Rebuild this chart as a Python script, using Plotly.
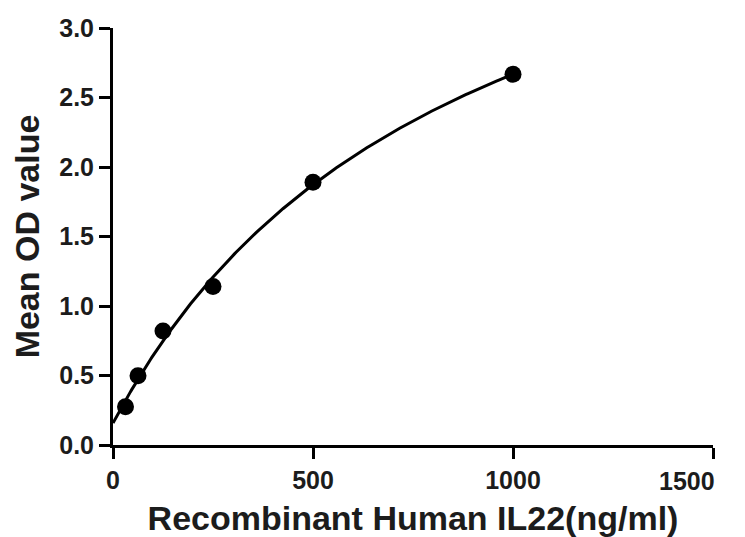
import numpy as np
import plotly.graph_objects as go

# Data
conc = [31.25, 62.5, 125, 250, 500, 1000]
od = [0.276, 0.499, 0.82, 1.14, 1.89, 2.667]
x_ticks = [0, 500, 1000, 1500]
x_tick_labels = ["0", "500", "1000", "1500"]
y_ticks = [0.0, 0.5, 1.0, 1.5, 2.0, 2.5, 3.0]
y_tick_labels = ["0.0", "0.5", "1.0", "1.5", "2.0", "2.5", "3.0"]

xd = np.array(conc, dtype=float)
yd = np.array(od, dtype=float)


# Four-parameter logistic fit (Levenberg-Marquardt, numpy only), Hill slope >= 1
def f4pl(p, x):
    A, b, logC, D = p
    B = 1.0 + np.exp(b)
    return D + (A - D) / (1.0 + (x / np.exp(logC)) ** B)


def fit_4pl(x, y):
    p = np.array([0.2, np.log(0.1), np.log(900.0), 5.0])
    lam = 1e-2
    r = y - f4pl(p, x)
    cost = float(r @ r)
    for _ in range(800):
        J = np.empty((len(x), 4))
        for k in range(4):
            dp = np.zeros(4)
            h = 1e-6 * max(1.0, abs(p[k]))
            dp[k] = h
            J[:, k] = (f4pl(p + dp, x) - f4pl(p - dp, x)) / (2 * h)
        JTJ = J.T @ J
        g = J.T @ r
        try:
            step = np.linalg.solve(JTJ + lam * np.diag(np.diag(JTJ) + 1e-12), g)
        except np.linalg.LinAlgError:
            lam *= 10
            continue
        pn = p + step
        rn = y - f4pl(pn, x)
        cn = float(rn @ rn)
        if np.isfinite(cn) and cn < cost:
            p, r, cost = pn, rn, cn
            lam *= 0.3
        else:
            lam *= 10
        if lam > 1e14:
            break
    return p, cost


xfit = np.linspace(0, xd.max(), 300)
try:
    p4, c4 = fit_4pl(xd, yd)
    yfit = f4pl(p4, xfit)
    if not np.all(np.isfinite(yfit)):
        raise ValueError
except Exception:
    coef = np.polyfit(xd, yd, 2)
    yfit = np.polyval(coef, xfit)

font_family = "Liberation Sans, Arial, sans-serif"
txt_color = "#1c1c1c"
tick_font = dict(family=font_family, size=25, color=txt_color, weight="bold")

fig = go.Figure()
fig.add_trace(go.Scatter(x=xfit, y=yfit, mode="lines",
                         line=dict(color="black", width=3), showlegend=False,
                         hoverinfo="skip"))
fig.add_trace(go.Scatter(x=conc, y=od, mode="markers",
                         marker=dict(color="black", size=17), showlegend=False))

axis_common = dict(showline=True, linecolor="black", linewidth=3,
                   ticks="outside", ticklen=11, tickwidth=3, tickcolor="black",
                   showgrid=False, zeroline=False, automargin=False,
                   tickfont=tick_font)

# last x tick label is drawn right-aligned to the axis end (as in the reference)
x_ticktext = x_tick_labels[:-1] + [""]
fig.add_annotation(x=x_ticks[-1], xref="x", y=0, yref="paper",
                   text=x_tick_labels[-1], showarrow=False,
                   xanchor="right", yanchor="top", xshift=4, yshift=-20,
                   font=tick_font)

fig.update_layout(
    width=737, height=529,
    margin=dict(l=105, r=32, t=20, b=92),
    paper_bgcolor="white", plot_bgcolor="white",
    xaxis=dict(range=[0, 1500], tickvals=x_ticks, ticktext=x_ticktext,
               title=dict(text="Recombinant Human IL22(ng/ml)", standoff=16,
                          font=dict(family=font_family, size=34, color=txt_color, weight="bold")),
               **axis_common),
    yaxis=dict(range=[0, 3.0], tickvals=y_ticks, ticktext=y_tick_labels,
               title=dict(text="Mean OD value", standoff=14,
                          font=dict(family=font_family, size=34, color=txt_color, weight="bold")),
               **axis_common),
)

fig.write_html("out.html")
